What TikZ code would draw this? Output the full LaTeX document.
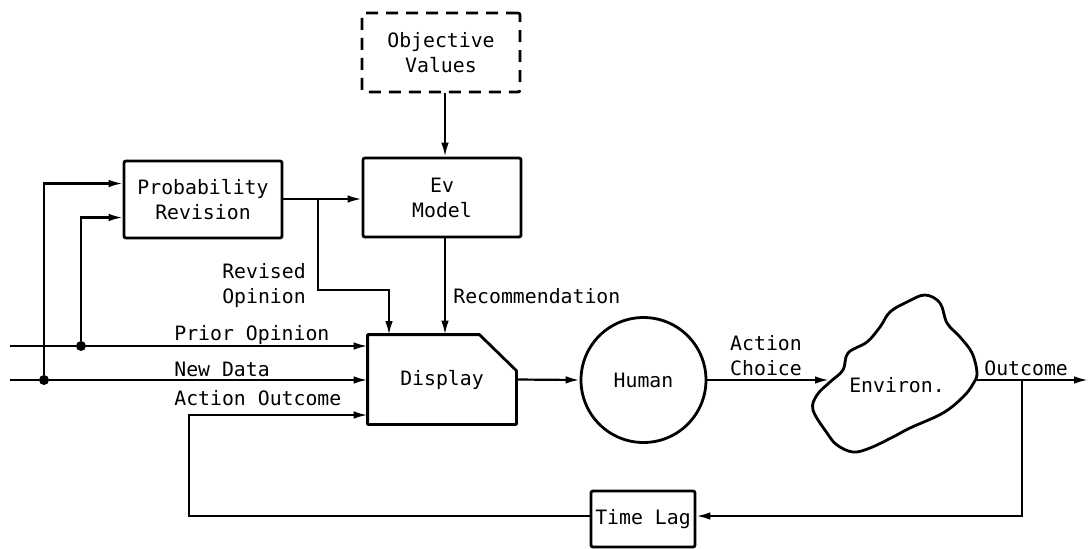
\documentclass[tikz,border=0pt]{standalone}
\usepackage{fontspec}
\setmonofont{DejaVu Sans Mono}
\usetikzlibrary{arrows.meta}
\begin{document}
\begin{tikzpicture}[x=0.5pt,y=-0.5pt,
  every node/.style={font=\ttfamily\fontsize{9.9}{12.5}\selectfont,inner sep=0pt,align=center},
  blk/.style={draw,line width=1.4pt,rounded corners=1pt},
  conn/.style={line width=1.1pt},
  arr/.style={conn,-{Latex[length=7pt,width=3.8pt]}},
  lbl/.style={anchor=base west},
  dot/.style={circle,fill,minimum size=5pt,inner sep=0pt}]
\useasboundingbox (0,0) rectangle (1089,548);
\fill[white] (0,0) rectangle (1089,548);

% blocks
\node[blk,dashed,dash pattern=on 6pt off 4pt,minimum width=79pt,minimum height=39.5pt] (obj) at (441,52.5) {Objective\\Values};
\node[blk,minimum width=79pt,minimum height=39.5pt] (ev) at (442,197.5) {Ev\\Model};
\node[blk,minimum width=79pt,minimum height=38.5pt] (pr) at (203,199.5) {Probability\\Revision};
\node[minimum width=74pt,minimum height=44.5pt] (disp) at (442,379.5) {Display};
\draw[line width=1.4pt,line join=round] (disp.south west) -- (disp.north west) -- ([shift={(-37,0)}]disp.north east) -- ([shift={(0,36)}]disp.north east) -- (disp.south east) -- cycle;
\node[draw,circle,line width=1.4pt,minimum size=62.5pt] (hum) at (643.5,380) {Human};
\node[blk,minimum width=52pt,minimum height=28pt] (lag) at (643,519) {Time Lag};

% environment cloud
\draw[line width=1.4pt] plot[smooth cycle,tension=0.6] coordinates {
  (925,295) (940,303) (947,323) (960,337) (972,353) (977,373) (973,384)
  (963,397) (943,413) (910,428) (893,437) (870,448) (853,452) (837,445)
  (827,433) (813,410) (817,395) (830,382) (843,370) (848,353) (867,342)
  (880,327) (890,312) (907,302)};
\node (env) at (897,385) {Environ.};
\coordinate (envin) at (829,380);
\coordinate (envout) at (977,380);

% junctions
\coordinate (inP) at (10,346);
\coordinate (inN) at (10,380);
\node[dot] (jP) at (81,346) {};
\node[dot] (jN) at (44,380) {};
\coordinate (jR) at (318,199);
\coordinate (jO) at (1022,380);
\coordinate (outEnd) at (1088,380);

% connectors
\draw[conn] (inP) -- (jP);
\draw[arr] (jP) -- (disp.west |- jP);
\draw[conn] (inN) -- (jN);
\draw[arr] (jN) -- (disp.west |- jN);
\draw[arr] (jN) |- ([yshift=8pt]pr.west);
\draw[arr] (jP) |- ([yshift=-9pt]pr.west);
\draw[arr] (pr.east |- jR) -- (ev.west |- jR);
\draw[arr] (jR) -- (318,290) -| (389,335);
\draw[arr] (obj.south -| 445,0) -- (ev.north -| 445,0);
\draw[arr] (ev.south -| 445,0) -- (disp.north -| 445,0);
\draw[arr] (disp.east) -- (hum.west);
\draw[arr] (hum.east) -- (envin);
\draw[arr] (envout) -- (outEnd);
\draw[arr] (jO) |- (lag.east |- 0,516);
\draw[arr] (lag.west |- 0,516) -| (189,415) -- (disp.west |- 0,415);

% labels
\node[lbl] at (174,340) {Prior Opinion};
\node[lbl] at (174,376) {New Data};
\node[lbl] at (174,405) {Action Outcome};
\node[lbl] at (453,303) {Recommendation};
\node at (264,286) {Revised\\Opinion};
\node[align=left] at (766,356) {Action\\Choice};
\node[lbl] at (984,375) {Outcome};
\end{tikzpicture}
\end{document}
